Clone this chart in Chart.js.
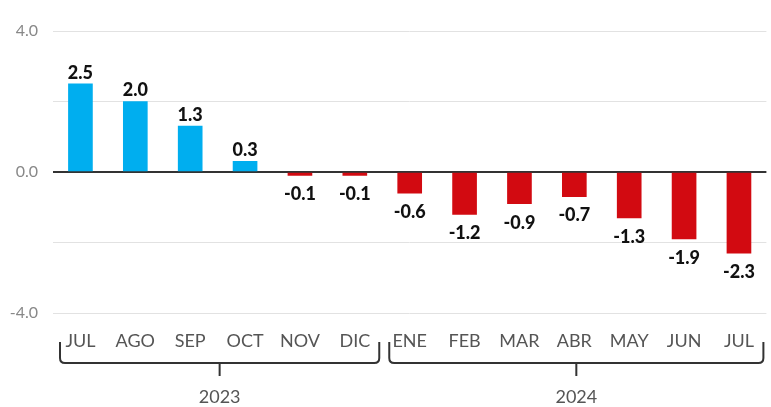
<!DOCTYPE html>
<html>
<head>
<meta charset="utf-8">
<script src="https://cdn.jsdelivr.net/npm/chart.js@4"></script>
<style>
  html, body { margin: 0; padding: 0; background: #fff; }
  #wrap { width: 771px; height: 407px; position: relative; }
</style>
</head>
<body>
<div id="wrap"><canvas id="chart"></canvas></div>
<script>
// Datos del grafico
const months = ['JUL', 'AGO', 'SEP', 'OCT', 'NOV', 'DIC', 'ENE', 'FEB', 'MAR', 'ABR', 'MAY', 'JUN', 'JUL'];
const values = [2.5, 2.0, 1.3, 0.3, -0.1, -0.1, -0.6, -1.2, -0.9, -0.7, -1.3, -1.9, -2.3];
const years = ['2023', '2024'];
const yearSizes = [6, 7];
const yTicks = [4, 0, -4];

const FONT = 'Lato, "Open Sans", sans-serif';

// etiquetas de valor sobre / bajo cada barra
const valueLabels = {
    id: 'valueLabels',
    afterDatasetsDraw(chart) {
        const ctx = chart.ctx;
        const meta = chart.getDatasetMeta(0);
        ctx.save();
        ctx.font = '900 18px ' + FONT;
        ctx.fillStyle = '#111';
        ctx.textAlign = 'center';
        ctx.textBaseline = 'middle';
        meta.data.forEach((bar, i) => {
            const v = values[i];
            if (v >= 0) {
                ctx.fillText(v.toFixed(1), bar.x, bar.y - 11);
            } else {
                ctx.fillText(v.toFixed(1), bar.x, bar.y + 19);
            }
        });
        ctx.restore();
    }
};

// llaves de los años bajo el eje x
const yearBrackets = {
    id: 'yearBrackets',
    afterDraw(chart) {
        const ctx = chart.ctx;
        const x = chart.scales.x;
        const half = (x.getPixelForValue(1) - x.getPixelForValue(0)) / 2;
        const top = 342, base = 363, r = 5;
        ctx.save();
        ctx.strokeStyle = '#333';
        ctx.lineWidth = 2;
        let start = 0;
        years.forEach((yr, g) => {
            const end = start + yearSizes[g] - 1;
            const l = x.getPixelForValue(start) - half + 7;
            const rt = x.getPixelForValue(end) + half - 3;
            const mid = (l + rt) / 2;
            ctx.beginPath();
            ctx.moveTo(l, top);
            ctx.lineTo(l, base - r);
            ctx.quadraticCurveTo(l, base, l + r, base);
            ctx.lineTo(rt - r, base);
            ctx.quadraticCurveTo(rt, base, rt, base - r);
            ctx.lineTo(rt, top);
            ctx.moveTo(mid, base);
            ctx.lineTo(mid, base + 13);
            ctx.stroke();
            ctx.fillStyle = '#555';
            ctx.font = '18px ' + FONT;
            ctx.textAlign = 'center';
            ctx.textBaseline = 'middle';
            ctx.fillText(yr, mid, 397);
            start = end + 1;
        });
        ctx.restore();
    }
};

const ctx = document.getElementById('chart').getContext('2d');
new Chart(ctx, {
    type: 'bar',
    data: {
        labels: months,
        datasets: [{
            data: values,
            backgroundColor: values.map(v => v >= 0 ? '#00AEEF' : '#D20A11'),
            barThickness: 24
        }]
    },
    options: {
        responsive: true,
        maintainAspectRatio: false,
        animation: false,
        layout: { padding: { top: 31, right: 0, bottom: 0, left: 0 } },
        plugins: {
            legend: { display: false },
            tooltip: { enabled: false }
        },
        scales: {
            x: {
                grid: { display: false, drawTicks: false },
                border: { display: false },
                ticks: {
                    color: '#555',
                    font: { family: FONT, size: 18 },
                    padding: 17,
                    maxRotation: 0,
                    autoSkip: false
                },
                afterFit(scale) { scale.height = 94; }
            },
            y: {
                min: -4,
                max: 4,
                border: { display: false },
                grid: {
                    drawTicks: false,
                    color: c => c.tick.value === 0 ? '#333' : '#e2e2e2',
                    lineWidth: c => c.tick.value === 0 ? 2 : 1
                },
                ticks: {
                    stepSize: 2,
                    padding: 15,
                    color: '#888',
                    font: { family: FONT, size: 16 },
                    callback: v => yTicks.includes(v) ? v.toFixed(1) : ''
                },
                afterFit(scale) { scale.width = 53; }
            }
        }
    },
    plugins: [valueLabels, yearBrackets]
});
</script>
</body>
</html>
